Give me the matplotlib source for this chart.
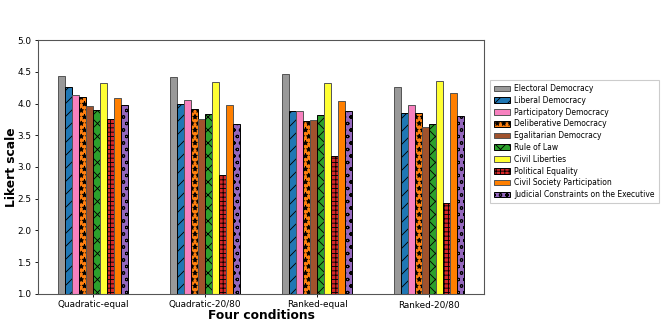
import numpy as np
import matplotlib
matplotlib.use("Agg")
import matplotlib.pyplot as plt

conditions = ["Quadratic-equal", "Quadratic-20/80", "Ranked-equal", "Ranked-20/80"]
indices = ["Electoral Democracy", "Liberal Democracy", "Participatory Democracy",
           "Deliberative Democracy", "Egalitarian Democracy", "Rule of Law",
           "Civil Liberties", "Political Equality", "Civil Society Participation",
           "Judicial Constraints on the Executive"]

# one list per index, values for the four conditions
electoral = [4.43, 4.41, 4.47, 4.26]
liberal = [4.26, 3.99, 3.88, 3.85]
participatory = [4.14, 4.05, 3.89, 3.97]
deliberative = [4.10, 3.92, 3.72, 3.85]
egalitarian = [3.96, 3.76, 3.74, 3.63]
rule_of_law = [3.90, 3.84, 3.82, 3.67]
civil_liberties = [4.33, 4.34, 4.33, 4.35]
political_equality = [3.75, 2.87, 3.18, 2.43]
civil_society = [4.08, 3.97, 4.04, 4.17]
judicial = [3.97, 3.67, 3.88, 3.80]

series = [electoral, liberal, participatory, deliberative, egalitarian,
          rule_of_law, civil_liberties, political_equality, civil_society, judicial]

colors = ["#999999", "#1f77b4", "#f781bf", "#ff7f0e", "#a0522d",
          "#2ca02c", "#ffff33", "#d62728", "#ff7f00", "#9467bd"]
hatches = [None, "//", None, "**", None, "xx", None, "+++", None, "oo"]

plt.rcParams["hatch.linewidth"] = 0.8

# lower dpi so the hatch patterns come out at the same spacing as the original
DPI = 78
fig = plt.figure(figsize=(664 / DPI, 331 / DPI), dpi=DPI)
ax = fig.add_axes([0.0565, 0.112, 0.673, 0.767])

x = np.arange(len(conditions))
width = 0.0625
for i, (vals, name) in enumerate(zip(series, indices)):
    h = hatches[i]
    ec = "black" if h else "#555555"
    ax.bar(x + (i - 4.5) * width, vals, width, color=colors[i], edgecolor=ec,
           hatch=h, linewidth=0.9, label=name)

ax.set_ylim(1.0, 5.0)
ax.set_yticks(np.arange(1.0, 5.01, 0.5))
ax.set_xticks(x)
ax.set_xticklabels(conditions, fontsize=8.2)
ax.tick_params(axis="y", labelsize=8.2)
ax.tick_params(length=3.2, width=0.8, pad=2.5)
ax.set_xlabel("Four conditions", fontsize=11.3, fontweight="bold", labelpad=0)
ax.set_ylabel("Likert scale", fontsize=11.3, fontweight="bold")
ax.yaxis.set_label_coords(-0.044, 0.5)
for s in ax.spines.values():
    s.set_color("#555555")
    s.set_linewidth(1.0)

ax.legend(loc="center left", bbox_to_anchor=(1.005, 0.6), fontsize=7.1,
          handlelength=2.0, handleheight=0.75, labelspacing=0.36, borderpad=0.5,
          handletextpad=0.6, fancybox=False, framealpha=1)

fig.savefig("out.png", dpi=DPI)
